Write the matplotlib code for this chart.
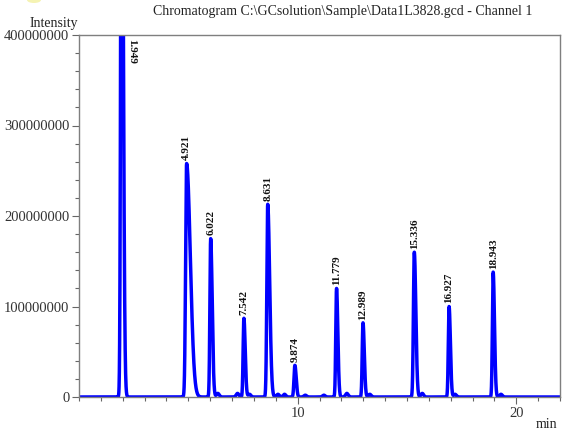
import numpy as np
import matplotlib
matplotlib.use("Agg")
import matplotlib.pyplot as plt
from matplotlib.ticker import MultipleLocator, FixedLocator
from matplotlib.patches import Ellipse

# Peak table (retention time in min, height in counts)
peak_times = [1.949, 4.921, 6.022, 7.542, 8.631, 9.874, 11.779, 12.989, 15.336, 16.927, 18.943]
peak_heights = [8.0e8, 258e6, 175e6, 87e6, 213e6, 35e6, 120e6, 82e6, 160e6, 100e6, 138e6]
peak_sigma_left = [0.04, 0.045, 0.035, 0.035, 0.04, 0.04, 0.035, 0.035, 0.04, 0.035, 0.035]
peak_sigma_right = [0.07, 0.17, 0.07, 0.06, 0.09, 0.06, 0.06, 0.06, 0.07, 0.06, 0.06]
peak_labels = ["1.949", "4.921", "6.022", "7.542", "8.631", "9.874",
               "11.779", "12.989", "15.336", "16.927", "18.943"]

# small baseline bumps
minor_times = [6.35, 7.25, 7.8, 9.1, 9.4, 10.35, 11.2, 12.25, 13.3, 15.7, 17.2, 19.3]
minor_heights = [4e6, 4e6, 3e6, 3e6, 3e6, 2e6, 2e6, 4e6, 3e6, 4e6, 3e6, 3e6]

x_major = [10, 20]
y_major = [0, 100000000, 200000000, 300000000, 400000000]
y_labels = ["0", "100000000", "200000000", "300000000", "400000000"]

title = r"Chromatogram C:\GCsolution\Sample\Data1L3828.gcd - Channel 1"

t = np.linspace(0, 22, 8801)
signal = np.zeros_like(t)
for tr, h, sl, sr in zip(peak_times, peak_heights, peak_sigma_left, peak_sigma_right):
    s = np.where(t < tr, sl, sr)
    signal += h * np.exp(-0.5 * ((t - tr) / s) ** 2)
for tr, h in zip(minor_times, minor_heights):
    signal += h * np.exp(-0.5 * ((t - tr) / 0.06) ** 2)

fig = plt.figure(figsize=(5.62, 4.37), dpi=100)
ax = fig.add_axes([79 / 562, 40 / 437, 481 / 562, 362 / 437])
serif = ["Liberation Serif", "DejaVu Serif"]

ax.plot(t, signal, color="#0000ff", lw=2.5, clip_on=True, solid_joinstyle="round")
ax.set_xlim(0, 22)
ax.set_ylim(0, 400000000)

ax.xaxis.set_major_locator(FixedLocator(x_major))
ax.xaxis.set_minor_locator(MultipleLocator(1))
ax.yaxis.set_major_locator(FixedLocator(y_major))
ax.yaxis.set_minor_locator(MultipleLocator(20000000))
ax.set_xticklabels([str(v) for v in x_major], fontfamily=serif, fontsize=10.5, color="#333333")
ax.set_yticklabels(y_labels, fontfamily=serif, fontsize=10.5, color="#333333")
ax.tick_params(axis="both", which="major", length=5, width=0.8, color="#666666", pad=2)
ax.tick_params(axis="both", which="minor", length=3, width=0.8, color="#666666")
for sp in ax.spines.values():
    sp.set_color("#7f7f7f")
    sp.set_linewidth(1.0)

# peak labels
for tr, h, lab in zip(peak_times, peak_heights, peak_labels):
    if h > 400000000:
        ax.text(tr + 0.45, 396000000, lab, rotation=-90, ha="center", va="top",
                fontfamily=serif, fontsize=8, fontweight="bold", color="#111111")
    else:
        ax.text(tr, h + 3500000, lab, rotation=90, ha="center", va="bottom",
                fontfamily=serif, fontsize=8, fontweight="bold", color="#111111")

fig.text(343 / 562, 1 - 12 / 437, title, ha="center", va="center",
         fontfamily=serif, fontsize=10, color="#222222")
fig.text(54 / 562, 1 - 23 / 437, "Intensity", ha="center", va="center",
         fontfamily=serif, fontsize=10, color="#222222")
fig.text(546 / 562, 1 - 424 / 437, "min", ha="center", va="center",
         fontfamily=serif, fontsize=10, color="#222222")

fig.patches.append(Ellipse((34 / 562, 1.0), 14 / 562, 6 / 437, transform=fig.transFigure,
                           facecolor="#f3f0a0", edgecolor="none", alpha=0.8))

fig.savefig("out.png", dpi=100)
